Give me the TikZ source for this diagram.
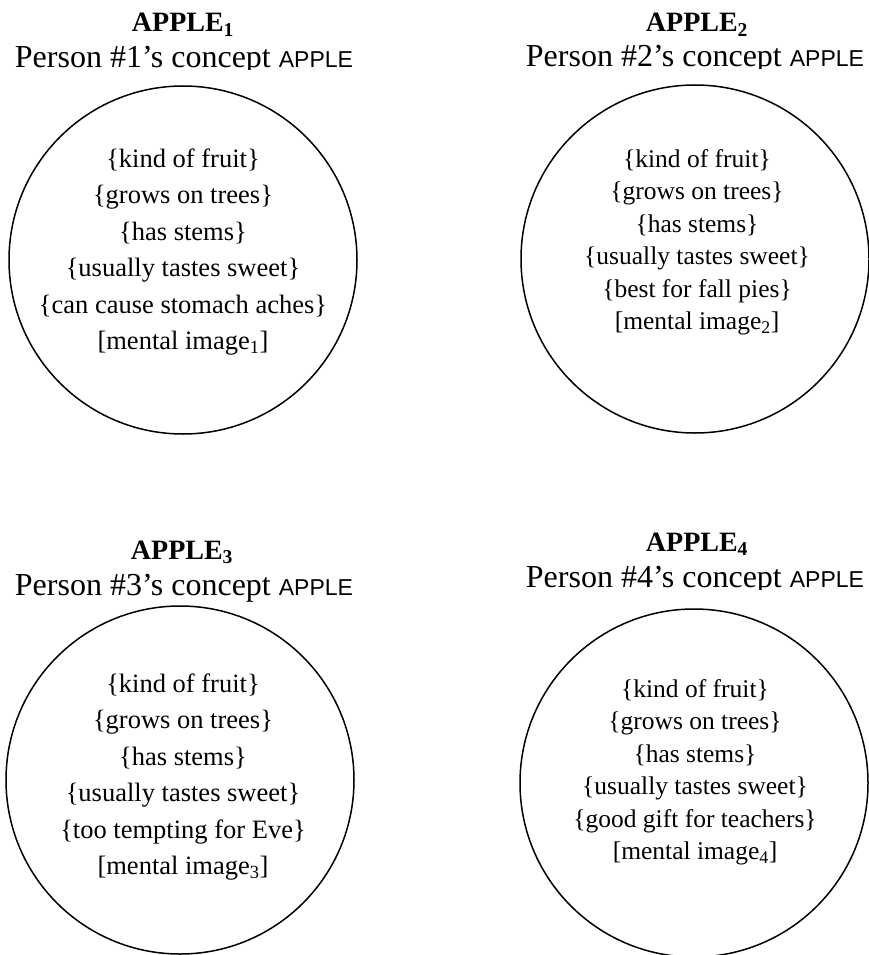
\documentclass[tikz,border=0pt]{standalone}
\usepackage{fontspec}
\setmainfont{Liberation Serif}
\newfontfamily\capsans{Liberation Sans}
\begin{document}
\begin{tikzpicture}[x=1pt,y=-1pt,
  ring/.style={circle,draw,line width=1.5pt,minimum size=348pt,inner sep=0pt},
  headtitle/.style={anchor=base,inner sep=0pt,font=\fontsize{28}{32}\selectfont\bfseries},
  headline/.style={anchor=base,inner sep=0pt,font=\fontsize{32}{36}\selectfont},
  featA/.style={anchor=base,inner sep=0pt,font=\fontsize{26.5}{30}\selectfont},
  featB/.style={anchor=base,inner sep=0pt,font=\fontsize{25.5}{30}\selectfont}]
\useasboundingbox (0,0) rectangle (868,955);
\newcommand\conceptline[1]{Person #1's concept {\capsans\fontsize{23}{26}\selectfont APPLE}}

% ---- concept 1 ----
\node[headtitle] (t1) at (183,32) {APPLE\textsubscript{1}};
\begin{scope}
  \clip (0,40) rectangle (434,70);
  \node[headline] (p1) at (184,68) {\conceptline{\#1}};
\end{scope}
\node[ring] (c1) at (183,260) {};
\node[featA] (a1) at (183,167) {\{kind of fruit\}};
\node[featA] (a2) at (183,203.5) {\{grows on trees\}};
\node[featA] (a3) at (183,240) {\{has stems\}};
\node[featA] (a4) at (183,276.5) {\{usually tastes sweet\}};
\node[featA] (a5) at (183,313) {\{can cause stomach aches\}};
\node[featA] (a6) at (183,349.5) {[mental image\textsubscript{1}]};

% ---- concept 2 ----
\node[headtitle] (t2) at (697,32) {APPLE\textsubscript{2}};
\begin{scope}
  \clip (434,40) rectangle (868,69);
  \node[headline] (p2) at (695,67) {\conceptline{\#2}};
\end{scope}
\node[ring] (c2) at (695,259) {};
\node[featB] (b1) at (697,167) {\{kind of fruit\}};
\node[featB] (b2) at (697,199.5) {\{grows on trees\}};
\node[featB] (b3) at (697,232) {\{has stems\}};
\node[featB] (b4) at (697,264.5) {\{usually tastes sweet\}};
\node[featB] (b5) at (697,297) {\{best for fall pies\}};
\node[featB] (b6) at (697,329.5) {[mental image\textsubscript{2}]};

% ---- concept 3 ----
\node[headtitle] (t3) at (182,559) {APPLE\textsubscript{3}};
\node[headline] (p3) at (184,595) {\conceptline{\#3}};
\node[ring] (c3) at (180,780) {};
\node[featA] (d1) at (183,692) {\{kind of fruit\}};
\node[featA] (d2) at (183,728.5) {\{grows on trees\}};
\node[featA] (d3) at (183,765) {\{has stems\}};
\node[featA] (d4) at (183,801.5) {\{usually tastes sweet\}};
\node[featA] (d5) at (183,838) {\{too tempting for Eve\}};
\node[featA] (d6) at (183,874.5) {[mental image\textsubscript{3}]};

% ---- concept 4 ----
\node[headtitle] (t4) at (697,551) {APPLE\textsubscript{4}};
\begin{scope}
  \clip (434,560) rectangle (868,589);
  \node[headline] (p4) at (695,587) {\conceptline{\#4}};
\end{scope}
\node[ring] (c4) at (694,783) {};
\node[featB] (e1) at (695,697) {\{kind of fruit\}};
\node[featB] (e2) at (695,729.5) {\{grows on trees\}};
\node[featB] (e3) at (695,762) {\{has stems\}};
\node[featB] (e4) at (695,794.5) {\{usually tastes sweet\}};
\node[featB] (e5) at (695,827) {\{good gift for teachers\}};
\node[featB] (e6) at (695,859.5) {[mental image\textsubscript{4}]};
\end{tikzpicture}
\end{document}
